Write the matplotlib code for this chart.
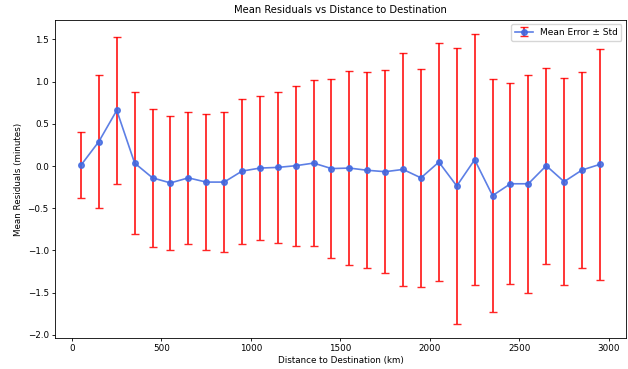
import numpy as np
import matplotlib.pyplot as plt

# Bin centres (km)
distance = np.arange(50, 3000, 100)

# Mean residual per bin (minutes)
mean_error = [0.01, 0.29, 0.66, 0.035, -0.14, -0.20, -0.14, -0.19, -0.19, -0.06,
              -0.024, -0.016, 0.004, 0.035, -0.03, -0.024, -0.05, -0.067, -0.04, -0.14,
              0.047, -0.236, 0.075, -0.35, -0.21, -0.21, 0.004, -0.185, -0.047, 0.02]

# Std of residual per bin
std_error = [0.39, 0.79, 0.87, 0.84, 0.82, 0.795, 0.785, 0.805, 0.83, 0.86,
             0.855, 0.89, 0.95, 0.98, 1.065, 1.145, 1.16, 1.20, 1.38, 1.295,
             1.41, 1.63, 1.485, 1.38, 1.19, 1.29, 1.16, 1.23, 1.16, 1.37]

fig = plt.figure(figsize=(6.28, 3.69), dpi=100)
ax = fig.add_axes([0.0876, 0.084, 0.909, 0.862])

ax.errorbar(distance, mean_error, yerr=std_error, fmt='-o', color='royalblue',
            ecolor='red', elinewidth=1.3, capsize=3, capthick=1.0,
            linewidth=1.2, markersize=4, alpha=0.85, label='Mean Error \u00b1 Std')

ax.set_title('Mean Residuals vs Distance to Destination', fontsize=7.2, pad=5)
ax.set_xlabel('Distance to Destination (km)', fontsize=6.3, labelpad=2)
ax.set_ylabel('Mean Residuals (minutes)', fontsize=6.3, labelpad=3)
ax.tick_params(labelsize=6.3, length=2.5, width=0.6, pad=2)
for s in ax.spines.values():
    s.set_linewidth(0.6)
ax.legend(fontsize=6.5)

fig.savefig('out.png', dpi=100)
